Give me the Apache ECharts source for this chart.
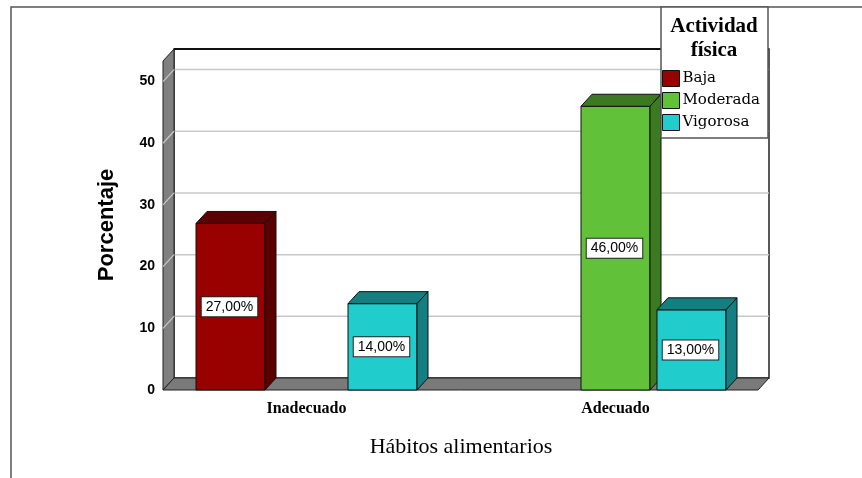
<!DOCTYPE html>
<html>
<head>
<meta charset="utf-8">
<script src="https://cdn.jsdelivr.net/npm/echarts@6/dist/echarts.min.js"></script>
<style>
  html, body { margin: 0; padding: 0; background: #fff; }
  #chart { width: 862px; height: 478px; }
</style>
</head>
<body>
<div id="chart"></div>
<script>
// data
var categories = ['Inadecuado', 'Adecuado'];
var seriesNames = ['Baja', 'Moderada', 'Vigorosa'];
var baja = [27, null];
var moderada = [null, 46];
var vigorosa = [14, 13];
var yTicks = [0, 10, 20, 30, 40, 50];

var frontColors = ['#990000', '#61c138', '#21cccc'];
var darkColors = ['#5a0000', '#3c7a22', '#137f80'];

var DX = 11, DY = 12; // 3d depth

var myChart = echarts.init(document.getElementById('chart'));

function fmt(v) {
    return v.toFixed(2).replace('.', ',') + '%';
}

// walls + floor
function renderFrame(params, api) {
    var cs = params.coordSys;
    var x0 = cs.x + 11, x1 = cs.x + cs.width - 12;
    var yb = api.coord([0, 0])[1];
    var yt = cs.y + 1;
    var kids = [];
    kids.push({
        type: 'rect',
        shape: { x: x0 + DX, y: yt - DY, width: x1 - x0, height: yb - yt },
        style: { fill: '#fff', stroke: '#222', lineWidth: 1.5 }
    });
    yTicks.forEach(function (t) {
        if (t == 0) return;
        var y = api.coord([0, t])[1];
        kids.push({
            type: 'line',
            shape: { x1: x0 + DX, y1: y - DY, x2: x1 + DX, y2: y - DY },
            style: { stroke: '#c8c8c8', lineWidth: 1.5 }
        });
    });
    kids.push({
        type: 'line',
        shape: { x1: x0 + DX, y1: yt - DY, x2: x1 + DX, y2: yt - DY },
        style: { stroke: '#111', lineWidth: 2 }
    });
    kids.push({
        type: 'polygon',
        shape: { points: [[x0, yt], [x0 + DX, yt - DY], [x0 + DX, yb - DY], [x0, yb]] },
        style: { fill: '#808080', stroke: '#222', lineWidth: 1 }
    });
    yTicks.forEach(function (t) {
        if (t == 0) return;
        var y = api.coord([0, t])[1];
        kids.push({
            type: 'line',
            shape: { x1: x0, y1: y, x2: x0 + DX, y2: y - DY },
            style: { stroke: '#c8c8c8', lineWidth: 1.2 }
        });
    });
    kids.push({
        type: 'polygon',
        shape: { points: [[x0, yb], [x0 + DX, yb - DY], [x1 + DX, yb - DY], [x1, yb]] },
        style: { fill: '#7a7a7a', stroke: '#222', lineWidth: 1 }
    });
    return { type: 'group', children: kids };
}

function makeBarRenderer(s) {
    return function (params, api) {
        var v = api.value(1);
        if (v == null || isNaN(v)) return;
        var band = api.size([1, 0])[0];
        var bw = band * 69 / 309;
        var slot = band * 76 / 309;
        var cx = api.coord([api.value(0), 0])[0] + (s - 1) * slot;
        var base = api.coord([0, 0])[1];
        var top = api.coord([0, v])[1];
        var x = cx - bw / 2;
        return {
            type: 'group',
            children: [
                {
                    type: 'rect',
                    shape: { x: x, y: top, width: bw, height: base - top },
                    style: { fill: frontColors[s], stroke: '#111', lineWidth: 1 }
                },
                {
                    type: 'polygon',
                    shape: { points: [[x, top], [x + DX, top - DY], [x + bw + DX, top - DY], [x + bw, top]] },
                    style: { fill: darkColors[s], stroke: '#111', lineWidth: 1 }
                },
                {
                    type: 'polygon',
                    shape: { points: [[x + bw, top], [x + bw + DX, top - DY], [x + bw + DX, base - DY], [x + bw, base]] },
                    style: { fill: darkColors[s], stroke: '#111', lineWidth: 1 }
                },
                {
                    type: 'text',
                    x: cx - 1, y: (top + base) / 2,
                    style: {
                        text: fmt(v),
                        fill: '#000',
                        font: '14px "Liberation Sans", Arial, sans-serif',
                        align: 'center', verticalAlign: 'middle',
                        backgroundColor: '#fff',
                        borderColor: '#222', borderWidth: 1,
                        padding: [3, 4, 2, 4]
                    }
                }
            ]
        };
    };
}

var allValues = [baja, moderada, vigorosa];

var series = [{
    type: 'custom',
    name: 'frame',
    z: 1,
    silent: true,
    renderItem: renderFrame,
    encode: { x: 0, y: 1 },
    data: [[0, 0]]
}];
seriesNames.forEach(function (n, s) {
    series.push({
        type: 'custom',
        name: n,
        z: 2 + s,
        itemStyle: { color: frontColors[s] },
        renderItem: makeBarRenderer(s),
        encode: { x: 0, y: 1 },
        data: allValues[s].map(function (v, i) { return [i, v]; })
    });
});

var option = {
    animation: false,
    backgroundColor: '#fff',
    grid: { left: 152, right: 92, top: 60, bottom: 88 },
    xAxis: {
        type: 'category',
        data: categories,
        axisLine: { show: false },
        axisTick: { show: false },
        axisLabel: {
            margin: 11,
            color: '#000',
            fontWeight: 'bold',
            fontSize: 16,
            fontFamily: '"Liberation Serif", "Times New Roman", serif'
        },
        name: 'Hábitos alimentarios',
        nameLocation: 'middle',
        nameGap: 46,
        nameTextStyle: {
            color: '#000',
            fontSize: 22,
            fontFamily: '"Liberation Serif", "Times New Roman", serif'
        }
    },
    yAxis: {
        type: 'value',
        min: 0,
        max: 53.5,
        interval: 10,
        splitLine: { show: false },
        axisLine: { show: false },
        axisTick: { show: false },
        axisLabel: {
            margin: -3,
            color: '#000',
            fontWeight: 'bold',
            fontSize: 14,
            fontFamily: '"Liberation Sans Narrow", "Liberation Sans", Arial, sans-serif',
            formatter: function (v) { return yTicks.indexOf(v) >= 0 ? String(v) : ''; }
        },
        name: 'Porcentaje',
        nameLocation: 'middle',
        nameGap: 34,
        nameTextStyle: {
            color: '#000',
            fontSize: 22,
            fontWeight: 'bold',
            fontFamily: '"Liberation Sans", Arial, sans-serif'
        }
    },
    legend: {
        data: seriesNames,
        orient: 'vertical',
        left: 662,
        top: 70,
        padding: 0,
        itemWidth: 17,
        itemHeight: 16,
        itemGap: 5,
        icon: 'rect',
        z: 20,
        itemStyle: { borderColor: '#111', borderWidth: 1 },
        textStyle: {
            color: '#000',
            fontSize: 15,
            padding: [0, 0, 0, -2],
            fontFamily: '"DejaVu Serif", "Liberation Serif", serif'
        }
    },
    graphic: [
        {
            type: 'polyline',
            z: 0,
            shape: { points: [[11, 478], [11, 7], [862, 7]] },
            style: { stroke: '#555', lineWidth: 1.5, fill: null }
        },
        {
            type: 'rect',
            z: 10,
            shape: { x: 661, y: 7, width: 107, height: 131 },
            style: { fill: '#fff', stroke: '#555', lineWidth: 1.5 }
        },
        {
            type: 'text',
            z: 11,
            x: 714, y: 15,
            style: {
                text: 'Actividad\nfísica',
                fill: '#000',
                align: 'center',
                font: 'bold 21px "Liberation Serif", "Times New Roman", serif',
                lineHeight: 24
            }
        }
    ],
    series: series
};

myChart.setOption(option);
</script>
</body>
</html>
